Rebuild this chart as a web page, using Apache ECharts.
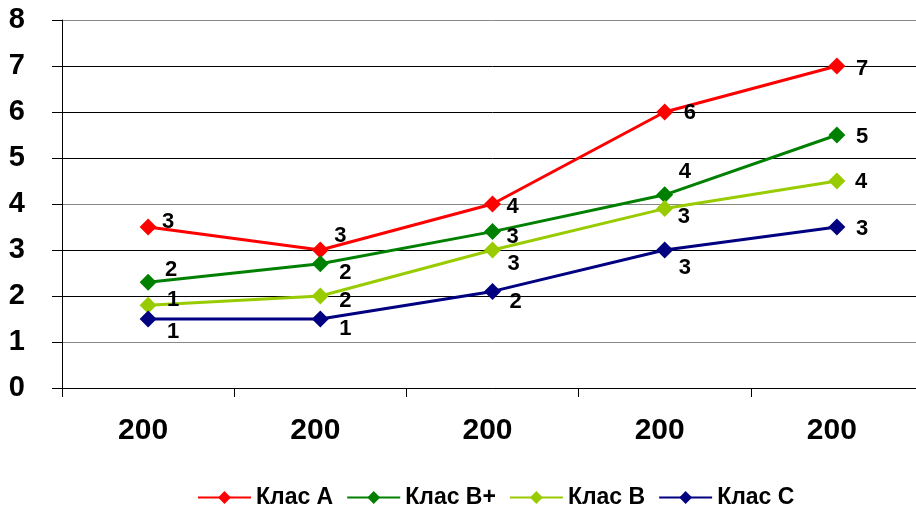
<!DOCTYPE html>
<html>
<head>
<meta charset="utf-8">
<script src="https://cdn.jsdelivr.net/npm/echarts@6/dist/echarts.min.js"></script>
<style>
  html, body { margin: 0; padding: 0; background: #fff; overflow: hidden; }
  /* plot area runs a few pixels past the right edge of the page */
  #chart { width: 930px; height: 506px; }
</style>
</head>
<body>
<div id="chart"></div>
<script>
// Categories (year labels) and value scale
const categories = ['200', '200', '200', '200', '200'];
const yTicks = [0, 1, 2, 3, 4, 5, 6, 7, 8];

// Series values
const seriesNames = ['Клас А', 'Клас В+', 'Клас В', 'Клас С'];
const klasA = [3.5, 3.0, 4.0, 6.0, 7.0];
const klasBPlus = [2.3, 2.7, 3.4, 4.2, 5.5];
const klasB = [1.8, 2.0, 3.0, 3.9, 4.5];
const klasC = [1.5, 1.5, 2.1, 3.0, 3.5];

// Per-point label nudges [dx, dy] so the value labels do not collide
const nudgeA = [[14, -5], [14, -14], [14, 3], [19, 1], [19, 3]];
const nudgeBPlus = [[17, -12], [19, 9], [14, 5], [14, -23], [19, 2]];
const nudgeB = [[19, -5], [19, 5], [15, 14], [13, 8], [18, 1]];
const nudgeC = [[19, 13], [19, 10], [17, 11], [14, 18], [19, 2]];

const colors = ['#FF0000', '#008000', '#99CC00', '#000080'];
const FONT = 'Arial, "Liberation Sans", sans-serif';
const SYMBOL = 17;

function buildSeries(name, values, nudges, color) {
  return {
    name: name,
    type: 'line',
    data: values.map((v, i) => ({
      value: v,
      label: {
        offset: [nudges[i][0] - SYMBOL / 2, nudges[i][1]]
      }
    })),
    symbol: 'diamond',
    symbolSize: SYMBOL,
    showAllSymbol: true,
    itemStyle: { color: color },
    lineStyle: { color: color, width: 3 },
    emphasis: { disabled: true },
    animation: false,
    label: {
      show: true,
      position: 'right',
      distance: 0,
      color: '#000',
      fontFamily: FONT,
      fontWeight: 'bold',
      fontSize: 22,
      formatter: p => String(Math.floor(p.value))
    }
  };
}

const chart = echarts.init(document.getElementById('chart'), null, { renderer: 'canvas' });

chart.setOption({
  backgroundColor: '#fff',
  animation: false,
  grid: { left: 62, top: 20, width: 861, height: 368 },
  legend: {
    data: seriesNames,
    left: 192,
    top: 481,
    itemWidth: 53,
    itemHeight: 16,
    itemGap: 13,
    textStyle: { color: '#000', fontFamily: FONT, fontWeight: 'bold', fontSize: 23 }
  },
  xAxis: {
    type: 'category',
    data: categories,
    boundaryGap: true,
    axisLine: { show: true, lineStyle: { color: '#000', width: 1 } },
    axisTick: { show: true, length: 9, lineStyle: { color: '#000' } },
    axisLabel: {
      color: '#000', fontFamily: FONT, fontWeight: 'bold', fontSize: 30,
      margin: 28, padding: [0, 10, 0, 0]
    },
    splitLine: { show: false }
  },
  yAxis: {
    type: 'value',
    min: yTicks[0],
    max: yTicks[yTicks.length - 1],
    interval: 1,
    axisLine: { show: true, lineStyle: { color: '#000', width: 1 } },
    axisTick: { show: true, length: 10, lineStyle: { color: '#000' } },
    axisLabel: {
      color: '#000', fontFamily: FONT, fontWeight: 'bold', fontSize: 29,
      margin: 37
    },
    splitLine: {
      show: true,
      lineStyle: {
        width: 1,
        color: ['#777', '#888', '#000', '#000', '#888', '#000', '#000', '#000', '#888']
      }
    }
  },
  series: [
    buildSeries(seriesNames[0], klasA, nudgeA, colors[0]),
    buildSeries(seriesNames[1], klasBPlus, nudgeBPlus, colors[1]),
    buildSeries(seriesNames[2], klasB, nudgeB, colors[2]),
    buildSeries(seriesNames[3], klasC, nudgeC, colors[3])
  ]
});
</script>
</body>
</html>
